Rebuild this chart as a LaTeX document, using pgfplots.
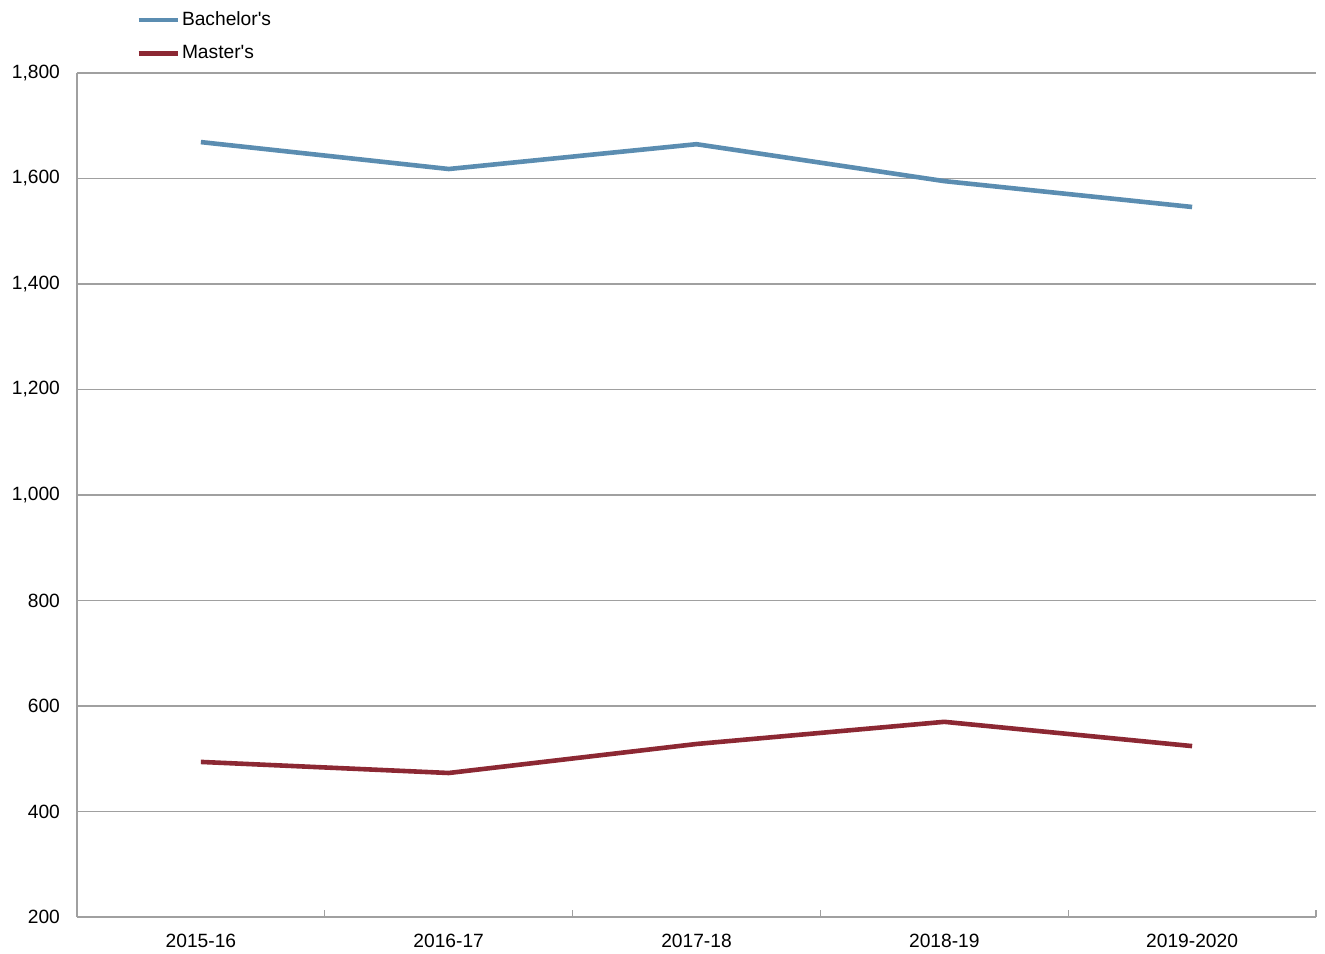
\documentclass[border=0pt]{standalone}
\usepackage{pgfplots}
\pgfplotsset{compat=1.18}
\usepackage{fontspec}
\setmainfont{Liberation Sans}
\definecolor{bach}{HTML}{5B8DB1}
\definecolor{mast}{HTML}{8C2833}
\definecolor{gridc}{HTML}{A0A0A0}
\begin{document}
\begin{tikzpicture}
\begin{axis}[
  at={(0,0)}, anchor=south west,
  scale only axis, width=619.5pt, height=422pt,
  xmin=-0.5, xmax=4.5, ymin=200, ymax=1800,
  axis x line*=bottom, axis y line*=left,
  axis line style={gridc, line width=0.8pt},
  xtick={0,1,2,3,4},
  xticklabels={2015-16,2016-17,2017-18,2018-19,2019-2020},
  minor xtick={0.5,1.5,2.5,3.5,4.5},
  major tick length=0pt, minor tick length=3.5pt,
  tick align=inside,
  minor tick style={gridc, line width=0.6pt},
  ytick={200,400,...,1800},
  ymajorgrids, grid style={gridc, line width=0.7pt},
  /pgf/number format/.cd, 1000 sep={,}, assume math mode=true,
  /pgfplots/.cd,
  tick label style={font=\fontsize{9.6pt}{11pt}\selectfont},
  yticklabel style={xshift=-5pt},
  xticklabel style={yshift=-5pt},
  legend style={at={(29.5pt,454pt)}, anchor=north west, draw=none, fill=none,
    inner sep=0pt, font=\fontsize{9.6pt}{11pt}\selectfont,
    row sep=6.5pt, nodes={inner sep=1pt}},
  legend cell align=left,
  legend image code/.code={\draw[#1, line width=2.3pt] (0pt,0pt) -- (19.5pt,0pt);},
  clip=false,
]
\addplot[bach, line width=2.3pt] coordinates {(0,1669) (1,1618) (2,1665) (3,1595) (4,1546)};
\addlegendentry{Bachelor\textquotesingle s}
\addplot[mast, line width=2.3pt] coordinates {(0,494) (1,473) (2,528) (3,570) (4,524)};
\addlegendentry{Master\textquotesingle s}
\end{axis}
\pgfresetboundingbox
\useasboundingbox (-38.5pt,-18pt) rectangle (624pt,458.5pt);
\end{tikzpicture}
\end{document}
